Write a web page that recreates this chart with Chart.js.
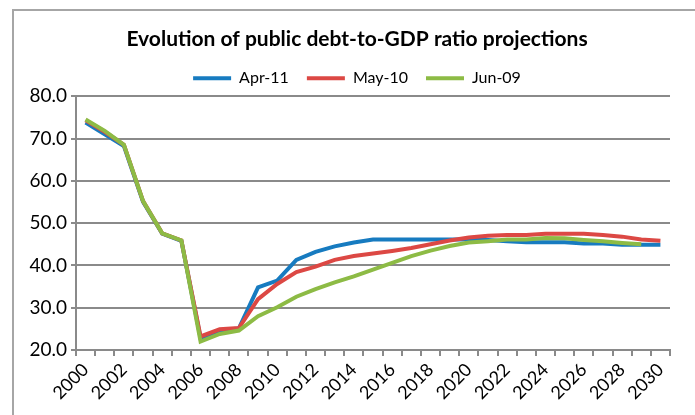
<!DOCTYPE html>
<html>
<head>
<meta charset="utf-8">
<script src="https://cdn.jsdelivr.net/npm/chart.js@4.4.1/dist/chart.umd.min.js"></script>
<style>
  html, body { margin: 0; padding: 0; background: #fff; overflow: hidden; }
  #frame {
    position: absolute;
    left: 12px;
    top: 9px;
    width: 686px;
    height: 410px;
    border: 2px solid #a6a6a6;
    background: #fff;
  }
  #debtChart { display: block; }
</style>
</head>
<body>
<div id="frame">
  <canvas id="debtChart" width="686" height="410"></canvas>
</div>
<script>
  // ---------------------------------------------------------
  // Data
  // ---------------------------------------------------------
  const years = [
    "2000", "2001", "2002", "2003", "2004", "2005", "2006", "2007",
    "2008", "2009", "2010", "2011", "2012", "2013", "2014", "2015",
    "2016", "2017", "2018", "2019", "2020", "2021", "2022", "2023",
    "2024", "2025", "2026", "2027", "2028", "2029", "2030"
  ];

  const apr11 = [
    73.8, 71.0, 68.2, 55.0, 47.5, 45.8, 22.8, 24.6,
    25.1, 34.8, 36.4, 41.3, 43.2, 44.5, 45.4, 46.1,
    46.1, 46.1, 46.1, 46.1, 46.1, 46.0, 45.7, 45.5,
    45.5, 45.5, 45.2, 45.2, 44.9, 44.9, 44.9
  ];

  const may10 = [
    74.3, 71.6, 68.5, 55.2, 47.6, 45.9, 23.2, 24.9,
    25.2, 32.0, 35.6, 38.4, 39.7, 41.3, 42.2, 42.8,
    43.4, 44.1, 45.0, 45.9, 46.6, 47.0, 47.2, 47.2,
    47.5, 47.5, 47.5, 47.2, 46.8, 46.1, 45.8
  ];

  const jun09 = [
    74.5, 71.8, 68.5, 55.2, 47.6, 45.9, 22.0, 23.8,
    24.6, 28.0, 30.1, 32.6, 34.4, 36.0, 37.4, 39.0,
    40.6, 42.2, 43.5, 44.6, 45.4, 45.7, 46.1, 46.1,
    46.5, 46.4, 46.0, 45.7, 45.3, 45.0, null
  ];

  const seriesNames = ["Apr-11", "May-10", "Jun-09"];
  const seriesColors = ["#177bc0", "#dc4844", "#8dbb45"];

  const yTicks = [20, 30, 40, 50, 60, 70, 80];

  const TITLE = "Evolution of public debt-to-GDP ratio projections";
  const FONT = "Lato, 'Open Sans', sans-serif";
  const GRID = "#8a8a8a";

  // ---------------------------------------------------------
  // Chart
  // ---------------------------------------------------------
  function makeSet(i, data, order) {
    return {
      label: seriesNames[i],
      data: data,
      borderColor: seriesColors[i],
      backgroundColor: seriesColors[i],
      borderWidth: 4,
      pointRadius: 0,
      pointHoverRadius: 0,
      tension: 0,
      fill: false,
      spanGaps: false,
      order: order
    };
  }

  const ctx = document.getElementById("debtChart").getContext("2d");

  new Chart(ctx, {
    type: "line",
    data: {
      labels: years,
      datasets: [
        makeSet(0, apr11, 2),
        makeSet(1, may10, 1),
        makeSet(2, jun09, 0)
      ]
    },
    options: {
      responsive: false,
      animation: false,
      events: [],
      layout: {
        padding: 0
      },
      plugins: {
        title: {
          display: true,
          text: TITLE,
          color: "#000",
          font: { family: FONT, size: 21, weight: "bold" },
          padding: { top: 16, bottom: 0 }
        },
        legend: {
          display: true,
          position: "top",
          labels: {
            color: "#000",
            font: { family: FONT, size: 16 },
            usePointStyle: true,
            pointStyle: "line",
            pointStyleWidth: 38,
            padding: 18,
            sort: (a, b) => a.datasetIndex - b.datasetIndex
          }
        },
        tooltip: { enabled: false }
      },
      scales: {
        x: {
          type: "category",
          offset: true,
          grid: {
            offset: true,
            drawOnChartArea: false,
            drawTicks: true,
            tickLength: 6,
            color: GRID,
            lineWidth: 2
          },
          border: { display: true, color: GRID, width: 2 },
          ticks: {
            autoSkip: false,
            maxRotation: 45,
            minRotation: 45,
            padding: 3,
            color: "#000",
            font: { family: FONT, size: 18 },
            callback: function (value, index) {
              const y = years[index];
              return Number(y) % 2 === 0 ? y : "";
            }
          },
          afterFit: function (scale) {
            scale.height = 71;
          }
        },
        y: {
          min: 20,
          max: 80,
          afterBuildTicks: function (scale) {
            scale.ticks = yTicks.map(v => ({ value: v }));
          },
          grid: {
            color: GRID,
            lineWidth: 2,
            tickLength: 5,
            drawTicks: true
          },
          border: { display: true, color: GRID, width: 2 },
          ticks: {
            padding: 4,
            color: "#000",
            font: { family: FONT, size: 19 },
            callback: v => Number(v).toFixed(1)
          },
          afterFit: function (scale) {
            scale.width = 62;
          }
        },
        // empty right-hand axis: only reserves the blank margin right of the plot
        spacer: {
          type: "linear",
          position: "right",
          display: true,
          grid: { display: false, drawTicks: false },
          border: { display: false },
          ticks: { display: false },
          afterFit: function (scale) {
            scale.width = 30;
          }
        }
      }
    }
  });
</script>
</body>
</html>
